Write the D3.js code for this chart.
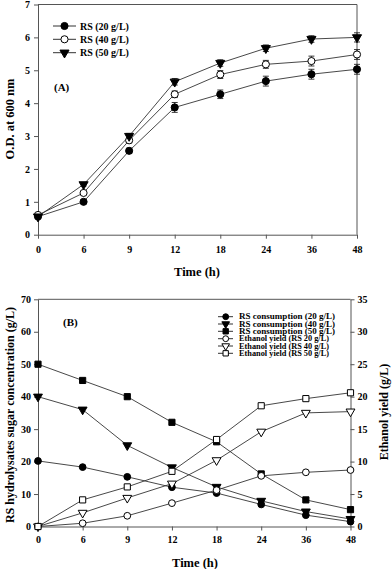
<!DOCTYPE html>
<html>
<head>
<meta charset="utf-8">
<script src="https://cdn.jsdelivr.net/npm/d3@7"></script>
<style>
  body { margin: 0; background: #fff; }
  svg text { font-family: "Liberation Serif", "Times New Roman", serif; font-weight: bold; fill: #000; }
</style>
</head>
<body>
<svg id="chart" width="392" height="569"></svg>
<script>
// sampling times (h), shown as evenly spaced categories
var times = ["0", "6", "9", "12", "18", "24", "36", "48"];

// panel A: O.D. at 600 nm
var odRS20 = [0.55, 1.0, 2.55, 3.87, 4.27, 4.67, 4.88, 5.03];
var odRS40 = [0.6, 1.27, 2.87, 4.27, 4.87, 5.18, 5.28, 5.48];
var odRS50 = [0.55, 1.53, 3.0, 4.65, 5.22, 5.67, 5.95, 6.0];
var errRS20 = [0.03, 0.05, 0.08, 0.15, 0.13, 0.15, 0.15, 0.15];
var errRS40 = [0.03, 0.05, 0.08, 0.1, 0.12, 0.12, 0.15, 0.15];
var errRS50 = [0.03, 0.05, 0.08, 0.1, 0.1, 0.1, 0.1, 0.14];
var odTicks = [0, 1, 2, 3, 4, 5, 6, 7];

// panel B: sugar consumption (left axis) and ethanol yield (right axis), g/L
var consRS20 = [20.2, 18.3, 15.3, 12.1, 10.3, 6.8, 3.5, 1.5];
var consRS40 = [40, 36, 25, 18.2, 12.2, 7.9, 4.6, 2.3];
var consRS50 = [50, 45, 40, 32.1, 26.1, 16.2, 8.2, 5.2];
var ethRS20 = [0, 0.5, 1.65, 3.6, 5.6, 7.8, 8.35, 8.7];
var ethRS40 = [0, 2.1, 4.4, 6.6, 10.2, 14.6, 17.5, 17.7];
var ethRS50 = [0, 4.1, 6.1, 8.5, 13.4, 18.6, 19.7, 20.6];
var sugarTicks = [0, 10, 20, 30, 40, 50, 60, 70];
var ethanolTicks = [0, 5, 10, 15, 20, 25, 30, 35];

var svg = d3.select('#chart');
svg.append('rect').attr('width', 392).attr('height', 569).attr('fill', '#fff');

var axisColor = '#555';
var lineColor = '#333';

function drawMarkers(g, pts, type, size, fill, rot) {
	g.append('g').selectAll('path')
		.data(pts)
		.enter()
		.append('path')
		.attr('d', d3.symbol().type(type).size(size)())
		.attr('transform', function (d) { return 'translate(' + d[0] + ',' + d[1] + ')' + (rot ? ' rotate(' + rot + ')' : ''); })
		.attr('fill', fill)
		.attr('stroke', '#000')
		.attr('stroke-width', 1);
}

function styleAxis(g, fontSize) {
	g.select('.domain').attr('stroke', axisColor);
	g.selectAll('.tick line').attr('stroke', axisColor);
	g.selectAll('.tick text').attr('font-size', fontSize).attr('fill', '#000')
		.style('font-family', '"Liberation Serif", serif').style('font-weight', 'bold');
}

// ---------- panel A ----------
var xA = d3.scalePoint().domain(times).range([38, 357]);
var yA = d3.scaleLinear().domain([0, 7]).range([234.7, 4.5]);

var gA = svg.append('g');

// frame
gA.append('line').attr('x1', xA.range()[0]).attr('x2', xA.range()[1]).attr('y1', yA(7)).attr('y2', yA(7)).attr('stroke', axisColor);
gA.append('line').attr('x1', xA.range()[1]).attr('x2', xA.range()[1]).attr('y1', yA(7)).attr('y2', yA(0)).attr('stroke', axisColor);

var axA = gA.append('g').attr('transform', 'translate(0,' + yA(0) + ')')
	.call(d3.axisBottom(xA).tickSize(4).tickSizeOuter(0).tickPadding(7));
styleAxis(axA, 10);
var ayA = gA.append('g').attr('transform', 'translate(' + xA.range()[0] + ',0)')
	.call(d3.axisLeft(yA).tickValues(odTicks).tickFormat(d3.format('d')).tickSize(4).tickSizeOuter(0).tickPadding(4));
styleAxis(ayA, 10);

var seriesA = [
	{ v: odRS20, e: errRS20, type: d3.symbolCircle, size: 40, fill: '#000', rot: 0, name: 'RS (20 g/L)' },
	{ v: odRS40, e: errRS40, type: d3.symbolCircle, size: 40, fill: '#fff', rot: 0, name: 'RS (40 g/L)' },
	{ v: odRS50, e: errRS50, type: d3.symbolTriangle, size: 36, fill: '#000', rot: 180, name: 'RS (50 g/L)' }
];

var lineA = d3.line().x(function (d, i) { return xA(times[i]); }).y(function (d) { return yA(d); });

seriesA.forEach(function (s) {
	gA.append('path').attr('d', lineA(s.v)).attr('fill', 'none').attr('stroke', lineColor).attr('stroke-width', 0.9);
	// error bars
	var eb = gA.append('g').attr('stroke', '#222').attr('stroke-width', 0.9);
	s.v.forEach(function (v, i) {
		var x = xA(times[i]);
		var y1 = yA(v - s.e[i]), y2 = yA(v + s.e[i]);
		eb.append('line').attr('x1', x).attr('x2', x).attr('y1', y1).attr('y2', y2);
		eb.append('line').attr('x1', x - 3).attr('x2', x + 3).attr('y1', y1).attr('y2', y1);
		eb.append('line').attr('x1', x - 3).attr('x2', x + 3).attr('y1', y2).attr('y2', y2);
	});
});
seriesA.forEach(function (s) {
	drawMarkers(gA, s.v.map(function (v, i) { return [xA(times[i]), yA(v)]; }), s.type, s.size, s.fill, s.rot);
});

// legend A
var legA = [26, 39.3, 52.7];
seriesA.forEach(function (s, i) {
	gA.append('line').attr('x1', 53).attr('x2', 76).attr('y1', legA[i]).attr('y2', legA[i]).attr('stroke', lineColor);
	drawMarkers(gA, [[64.5, legA[i]]], s.type, s.size, s.fill, s.rot);
	gA.append('text').attr('x', 80).attr('y', legA[i] + 3.5).attr('font-size', 10).text(s.name);
});

gA.append('text').attr('x', 54).attr('y', 91).attr('font-size', 11).text('(A)');
gA.append('text').attr('x', 197).attr('y', 276).attr('text-anchor', 'middle').attr('font-size', 12.5).text('Time (h)');
gA.append('text').attr('transform', 'translate(14,119) rotate(-90)').attr('text-anchor', 'middle').attr('font-size', 12.5).text('O.D. at 600 nm');

// ---------- panel B ----------
var xB = d3.scalePoint().domain(times).range([38, 350.5]);
var yB = d3.scaleLinear().domain([0, 70]).range([526.5, 299.3]);
var yE = d3.scaleLinear().domain([0, 35]).range([526.5, 299.3]);

var gB = svg.append('g');

gB.append('line').attr('x1', xB.range()[0]).attr('x2', xB.range()[1]).attr('y1', yB(70)).attr('y2', yB(70)).attr('stroke', axisColor);

var axB = gB.append('g').attr('transform', 'translate(0,' + yB(0) + ')')
	.call(d3.axisBottom(xB).tickSize(4).tickSizeOuter(0).tickPadding(5));
styleAxis(axB, 10);
var ayB = gB.append('g').attr('transform', 'translate(' + xB.range()[0] + ',0)')
	.call(d3.axisLeft(yB).tickValues(sugarTicks).tickFormat(d3.format('d')).tickSize(4).tickSizeOuter(0).tickPadding(3));
styleAxis(ayB, 10);
var ayE = gB.append('g').attr('transform', 'translate(' + xB.range()[1] + ',0)')
	.call(d3.axisRight(yE).tickValues(ethanolTicks).tickFormat(d3.format('d')).tickSize(4).tickSizeOuter(0).tickPadding(3));
styleAxis(ayE, 10);

var seriesB = [
	{ v: consRS20, y: yB, type: d3.symbolCircle, size: 36, fill: '#000', rot: 0, name: 'RS consumption (20 g/L)' },
	{ v: consRS40, y: yB, type: d3.symbolTriangle, size: 34, fill: '#000', rot: 180, name: 'RS consumption (40 g/L)' },
	{ v: consRS50, y: yB, type: d3.symbolSquare, size: 38, fill: '#000', rot: 0, name: 'RS consumption (50 g/L)' },
	{ v: ethRS20, y: yE, type: d3.symbolCircle, size: 36, fill: '#fff', rot: 0, name: 'Ethanol yield (RS 20 g/L)' },
	{ v: ethRS40, y: yE, type: d3.symbolTriangle, size: 34, fill: '#fff', rot: 180, name: 'Ethanol yield (RS 40 g/L)' },
	{ v: ethRS50, y: yE, type: d3.symbolSquare, size: 38, fill: '#fff', rot: 0, name: 'Ethanol yield (RS 50 g/L)' }
];

seriesB.forEach(function (s) {
	var ln = d3.line().x(function (d, i) { return xB(times[i]); }).y(function (d) { return s.y(d); });
	gB.append('path').attr('d', ln(s.v)).attr('fill', 'none').attr('stroke', lineColor).attr('stroke-width', 0.9);
});
seriesB.forEach(function (s) {
	drawMarkers(gB, s.v.map(function (v, i) { return [xB(times[i]), s.y(v)]; }), s.type, s.size, s.fill, s.rot);
});

// legend B (rows are tight, so the text is stretched sideways to the reference width)
var legB = [316.7, 324, 331.3, 338.7, 346, 353.3];
seriesB.forEach(function (s, i) {
	gB.append('line').attr('x1', 218).attr('x2', 233).attr('y1', legB[i]).attr('y2', legB[i]).attr('stroke', lineColor);
	drawMarkers(gB, [[225.7, legB[i]]], s.type, s.size * 0.75, s.fill, s.rot);
	gB.append('text').attr('x', 239).attr('y', legB[i] + 2.6).attr('font-size', 7.2)
		.attr('textLength', i < 3 ? 96 : 90).attr('lengthAdjust', 'spacingAndGlyphs')
		.text(s.name);
});

gB.append('text').attr('x', 63).attr('y', 326).attr('font-size', 11).text('(B)');
gB.append('text').attr('x', 195).attr('y', 567).attr('text-anchor', 'middle').attr('font-size', 12.5).text('Time (h)');
gB.append('text').attr('transform', 'translate(14,415) rotate(-90)').attr('text-anchor', 'middle').attr('font-size', 12).text('RS hydrolysates sugar concentration (g/L)');
gB.append('text').attr('transform', 'translate(388,412) rotate(-90)').attr('text-anchor', 'middle').attr('font-size', 12).text('Ethanol yield (g/L)');
</script>
</body>
</html>
